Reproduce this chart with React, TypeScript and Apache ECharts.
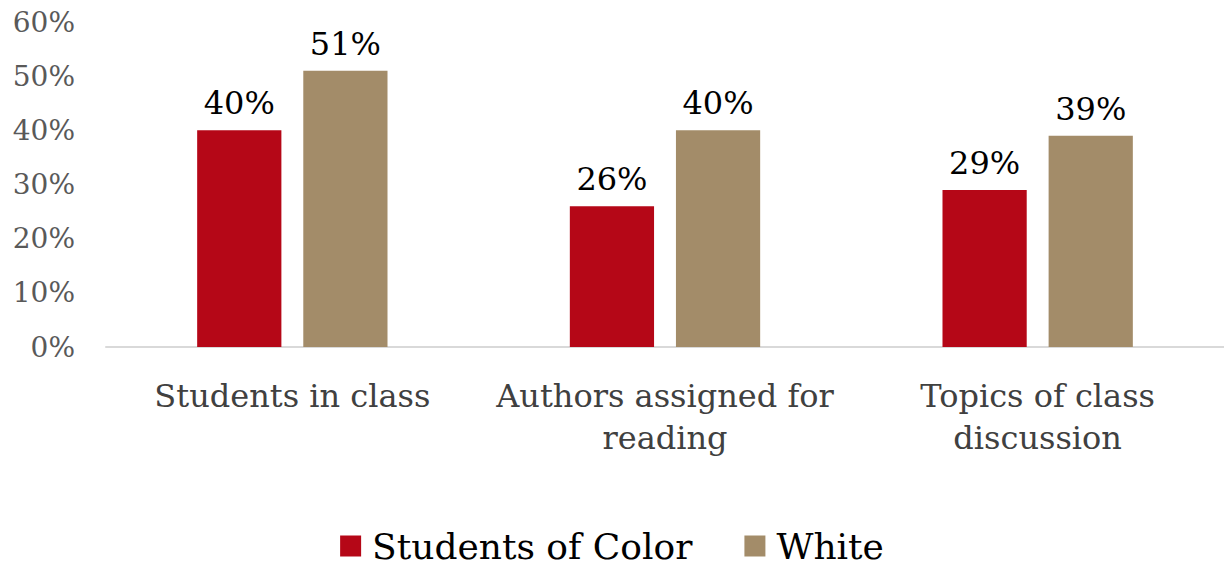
import React, { useEffect, useRef } from "react";
import * as echarts from "echarts";

const categories = ["Students in class", "Authors assigned for\nreading", "Topics of class\ndiscussion"];
const studentsOfColor = [40, 26, 29];
const white = [51, 40, 39];
const seriesNames = ["Students of Color", "White"];

const FONT = "'DejaVu Serif', serif";

export default function App() {
  const ref = useRef<HTMLDivElement>(null);
  useEffect(() => {
    document.body.style.margin = "0";
    const chart = echarts.init(ref.current!, null, { renderer: "svg" });
    const label = {
      show: true,
      position: "top",
      distance: 11,
      formatter: "{c}%",
      color: "#000",
      fontSize: 32,
      fontFamily: FONT,
    };
    chart.setOption({
      animation: false,
      textStyle: { fontFamily: FONT },
      grid: { left: 106, right: -12, top: 22, bottom: 224 },
      legend: {
        bottom: 0,
        left: "center",
        itemWidth: 21,
        itemHeight: 21,
        itemGap: 52,
        icon: "rect",
        textStyle: { fontSize: 36, lineHeight: 40, color: "#000", fontFamily: FONT, padding: [0, 0, 0, 6] },
        data: seriesNames,
      },
      xAxis: {
        type: "category",
        data: categories,
        axisLine: { lineStyle: { color: "#d9d9d9", width: 2 } },
        axisTick: { show: false },
        axisLabel: { fontSize: 32, color: "#404040", margin: 28, lineHeight: 42, fontFamily: FONT, interval: 0 },
      },
      yAxis: {
        type: "value",
        min: 0,
        max: 60,
        interval: 10,
        axisLine: { show: false },
        axisTick: { show: false },
        splitLine: { show: false },
        axisLabel: { formatter: "{value}%", fontSize: 28, color: "#595959", margin: 31, fontFamily: FONT },
      },
      series: [
        {
          name: seriesNames[0],
          type: "bar",
          data: studentsOfColor,
          barWidth: "22.6%",
          barGap: "26%",
          itemStyle: { color: "#b50717" },
          label,
        },
        {
          name: seriesNames[1],
          type: "bar",
          data: white,
          barWidth: "22.6%",
          itemStyle: { color: "#a38c69" },
          label,
        },
      ],
    });
    return () => chart.dispose();
  }, []);
  return <div ref={ref} style={{ width: 1224, height: 571 }} />;
}
